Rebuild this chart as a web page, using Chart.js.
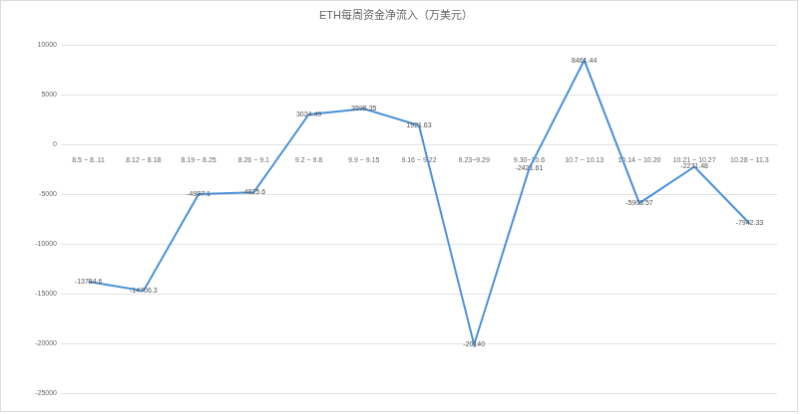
<!DOCTYPE html>
<html>
<head>
<meta charset="utf-8">
<script src="https://cdn.jsdelivr.net/npm/chart.js@4/dist/chart.umd.min.js"></script>
<style>
  html, body { margin: 0; padding: 0; background: #fff; }
  #chart { display: block; border: 1px solid #dcdcdc; }
</style>
</head>
<body>
<canvas id="chart" width="798" height="412"></canvas>
<script>
const weeks = ['8.5 ~ 8..11', '8.12 ~ 8.18', '8.19 ~ 8.25', '8.26 ~ 9.1', '9.2 ~ 9.8', '9.9 ~ 9.15',
  '9.16 ~ 9.22', '9.23~9.29', '9.30~10.6', '10.7 ~ 10.13', '10.14 ~ 10.20', '10.21 ~ 10.27', '10.28 ~ 11.3'];
const netFlow = [-13784.6, -14706.3, -4987.1, -4825.6, 3024.49, 3598.35,
  1921.63, -20140, -2421.61, 8461.44, -5903.57, -2231.48, -7942.33];
const yTicks = [10000, 5000, 0, -5000, -10000, -15000, -20000, -25000];

const ctx = document.getElementById('chart').getContext('2d');
const labelFont = '7px "Liberation Sans", Arial, sans-serif';

// value labels sit right on top of each point, like the source chart
const pointLabels = {
  id: 'pointLabels',
  afterDatasetsDraw(chart) {
    const c = chart.ctx;
    const meta = chart.getDatasetMeta(0);
    c.save();
    c.font = labelFont;
    c.fillStyle = '#505050';
    c.textAlign = 'center';
    c.textBaseline = 'middle';
    meta.data.forEach((pt, i) => {
      c.fillText(String(netFlow[i]), pt.x, pt.y);
    });
    c.restore();
  }
};

new Chart(ctx, {
  type: 'line',
  data: {
    labels: weeks,
    datasets: [{
      data: netFlow,
      borderColor: '#4a90d9',
      borderWidth: 2,
      pointRadius: 0,
      tension: 0,
      fill: false
    }]
  },
  options: {
    responsive: false,
    animation: false,
    layout: { padding: { top: 0, right: 20, bottom: 18, left: 14 } },
    plugins: {
      legend: { display: false },
      tooltip: { enabled: false },
      title: {
        display: true,
        text: 'ETH每周资金净流入（万美元）',
        color: '#666',
        font: { size: 11, family: '"Liberation Sans", "Noto Sans CJK SC", sans-serif', weight: 'normal' },
        padding: { top: 8, bottom: 23 }
      }
    },
    scales: {
      x: {
        position: { y: 0 },
        offset: true,
        grid: { display: false, offset: true },
        border: { display: false },
        ticks: { color: '#666', font: { size: 7, family: '"Liberation Sans", Arial, sans-serif' }, maxRotation: 0, autoSkip: false, padding: 4 }
      },
      y: {
        min: -25000,
        max: 10000,
        afterFit(scale) { scale.width = 46; },
        afterBuildTicks(scale) { scale.ticks = yTicks.map(v => ({ value: v })); },
        grid: { color: '#e3e3e3', lineWidth: 1, drawTicks: false },
        border: { display: false },
        ticks: {
          color: '#666',
          font: { size: 7, family: '"Liberation Sans", Arial, sans-serif' },
          padding: 4,
          callback: v => String(v)
        }
      }
    }
  },
  plugins: [pointLabels]
});
</script>
</body>
</html>
